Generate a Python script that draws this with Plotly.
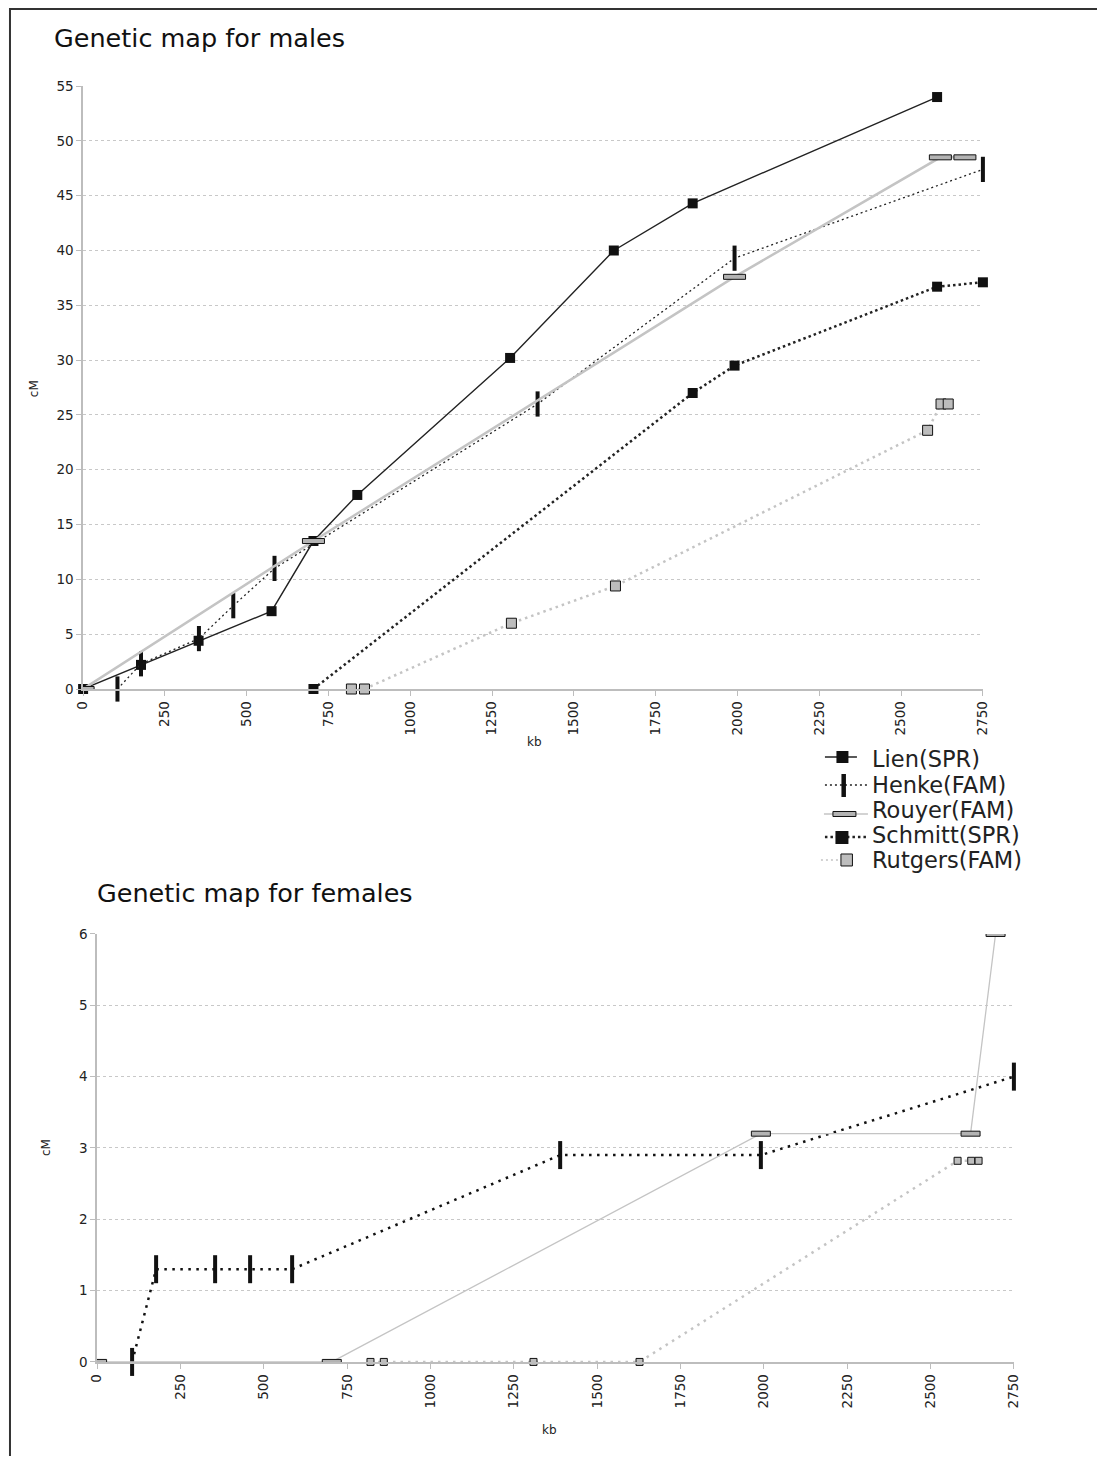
import plotly.graph_objects as go

W, H = 1104, 1464
# The photographed picture shows the page with an 8px pad and a slight
# down-scale; reference pixel positions are converted accordingly.
PAD = 8
SX = W / (W + 2 * PAD)
SY = H / (H + 2 * PAD)

# ---------------- data ----------------
lien_x = [0, 177, 353, 576, 704, 838, 1305, 1622, 1863, 2610]
lien_y = [0, 2.2, 4.4, 7.1, 13.5, 17.7, 30.2, 40.0, 44.3, 54.0]

henke_x = [105, 177, 354, 459, 585, 1389, 1991, 2750]
henke_m_y = [0, 2.3, 4.6, 7.6, 11.0, 26.0, 39.3, 47.4]
henke_f_y = [0, 1.3, 1.3, 1.3, 1.3, 2.9, 2.9, 4.0]

rouyer_x = [0, 704, 1991, 2620, 2695]
rouyer_m_y = [0, 13.5, 37.6, 48.5, 48.5]
rouyer_f_y = [0, 0, 3.2, 3.2, 6.0]

schmitt_x = [704, 1863, 1991, 2610, 2750]
schmitt_y = [0, 27.0, 29.5, 36.7, 37.1]

rutgers_x = [820, 860, 1309, 1627, 2581, 2622, 2644]
rutgers_m_y = [0, 0, 6.0, 9.4, 23.6, 26.0, 26.0]
rutgers_f_y = [0, 0, 0, 0, 2.82, 2.82, 2.82]

series_names = ["Lien(SPR)", "Henke(FAM)", "Rouyer(FAM)", "Schmitt(SPR)", "Rutgers(FAM)"]

x_ticks = [0, 250, 500, 750, 1000, 1250, 1500, 1750, 2000, 2250, 2500, 2750]
male_y_ticks = [0, 5, 10, 15, 20, 25, 30, 35, 40, 45, 50, 55]
female_y_ticks = [0, 1, 2, 3, 4, 5, 6]

FONT = "DejaVu Sans"
BLACK = "#111111"
LGRAY = "#c4c4c4"
TXT = "#222222"


def px_x(p):
    return (p / SX - PAD) / W


def px_y(p):
    return 1 - (p / SY - PAD) / H


fig = go.Figure()

# ---------------- males ----------------
fig.add_trace(go.Scatter(
    x=lien_x, y=lien_y, name=series_names[0], mode="lines+markers",
    line=dict(color="#222222", width=1.4),
    marker=dict(symbol="square", size=10, color=BLACK),
    xaxis="x", yaxis="y", cliponaxis=False))
fig.add_trace(go.Scatter(
    x=henke_x, y=henke_m_y, name=series_names[1], mode="lines+markers",
    line=dict(color="#222222", width=1.3, dash="2px,3px"),
    marker=dict(symbol="line-ns", size=18, color=BLACK,
                line=dict(color=BLACK, width=4)),
    xaxis="x", yaxis="y", cliponaxis=False))
fig.add_trace(go.Scatter(
    x=rouyer_x, y=rouyer_m_y, name=series_names[2], mode="lines",
    line=dict(color=LGRAY, width=2.5),
    xaxis="x", yaxis="y", cliponaxis=False))
fig.add_trace(go.Scatter(
    x=schmitt_x, y=schmitt_y, name=series_names[3], mode="lines+markers",
    line=dict(color="#222222", width=2.5, dash="2.5px,3px"),
    marker=dict(symbol="square", size=10, color=BLACK),
    xaxis="x", yaxis="y", cliponaxis=False))
fig.add_trace(go.Scatter(
    x=rutgers_x, y=rutgers_m_y, name=series_names[4], mode="lines+markers",
    line=dict(color=LGRAY, width=2.5, dash="2.5px,4px"),
    marker=dict(symbol="square", size=10, color="#bdbdbd",
                line=dict(color=BLACK, width=1)),
    xaxis="x", yaxis="y", cliponaxis=False))

# ---------------- females ----------------
fig.add_trace(go.Scatter(
    x=henke_x, y=henke_f_y, name=series_names[1], mode="lines+markers",
    line=dict(color="#111111", width=2.5, dash="2.5px,5.5px"),
    marker=dict(symbol="line-ns", size=20, color=BLACK,
                line=dict(color=BLACK, width=4)),
    xaxis="x2", yaxis="y2", cliponaxis=False))
fig.add_trace(go.Scatter(
    x=rouyer_x, y=rouyer_f_y, name=series_names[2], mode="lines",
    line=dict(color=LGRAY, width=1.3),
    xaxis="x2", yaxis="y2", cliponaxis=False))
fig.add_trace(go.Scatter(
    x=rutgers_x, y=rutgers_f_y, name=series_names[4], mode="lines+markers",
    line=dict(color=LGRAY, width=2.5, dash="2.5px,5px"),
    marker=dict(symbol="square", size=7, color="#bdbdbd",
                line=dict(color=BLACK, width=1)),
    xaxis="x2", yaxis="y2", cliponaxis=False))

shapes = []
# Rouyer horizontal-rectangle markers
for xv, yv in zip(rouyer_x, rouyer_m_y):
    shapes.append(dict(type="rect", xref="x", yref="y", xsizemode="pixel",
                       ysizemode="pixel", xanchor=xv, yanchor=yv,
                       x0=-11, x1=11, y0=-2.5, y1=2.5,
                       fillcolor="#b3b3b3", line=dict(color=BLACK, width=1),
                       layer="above"))
for xv, yv in zip(rouyer_x, rouyer_f_y):
    shapes.append(dict(type="rect", xref="x2", yref="y2", xsizemode="pixel",
                       ysizemode="pixel", xanchor=xv, yanchor=yv,
                       x0=-9.5, x1=9.5, y0=-2.5, y1=2.5,
                       fillcolor="#b3b3b3", line=dict(color=BLACK, width=1),
                       layer="above"))

# page frame (top and left edges)
shapes.append(dict(type="line", xref="paper", yref="paper",
                   x0=0, x1=1, y0=1 - 1 / H, y1=1 - 1 / H,
                   line=dict(color="#333333", width=2)))
shapes.append(dict(type="line", xref="paper", yref="paper",
                   x0=1 / W, x1=1 / W, y0=1, y1=0,
                   line=dict(color="#333333", width=2)))


# ---------------- hand-drawn legend ----------------
def pline(x0, x1, y, color, width, dash="solid"):
    return dict(type="line", xref="paper", yref="paper",
                x0=px_x(x0), x1=px_x(x1), y0=px_y(y), y1=px_y(y),
                line=dict(color=color, width=width, dash=dash))


def prect(x0, x1, y0, y1, fill, lc, lw):
    return dict(type="rect", xref="paper", yref="paper",
                x0=px_x(x0), x1=px_x(x1), y0=px_y(y0), y1=px_y(y1),
                fillcolor=fill, line=dict(color=lc, width=lw))


leg_y = [757, 783, 808, 833, 858]
shapes += [
    pline(824, 856, leg_y[0], "#222222", 1.4),
    prect(835.5, 847.5, leg_y[0] - 6, leg_y[0] + 6, BLACK, BLACK, 0),
    pline(824, 866, leg_y[1] + 2, "#222222", 1.3, "2px,3px"),
    prect(840.5, 845, leg_y[1] - 9, leg_y[1] + 14, BLACK, BLACK, 0),
    pline(823, 867, leg_y[2] + 6, LGRAY, 1.5),
    prect(832, 855, leg_y[2] + 3.5, leg_y[2] + 8.5, "#b3b3b3", BLACK, 1),
    pline(824, 866, leg_y[3] + 4, "#222222", 2.5, "2.5px,3px"),
    prect(834.5, 847.5, leg_y[3] - 2, leg_y[3] + 11, BLACK, BLACK, 0),
    pline(820, 852, leg_y[4] + 2, LGRAY, 1.5, "2px,3px"),
    prect(840, 851.5, leg_y[4] - 4, leg_y[4] + 8, "#bdbdbd", BLACK, 1),
]

axis_common = dict(
    showline=True, linecolor="#bdbdbd", linewidth=1.5,
    ticks="outside", ticklen=5, tickcolor="#bdbdbd", tickwidth=1,
    tickfont=dict(family=FONT, size=13.5, color=TXT),
    zeroline=False,
)


def label(text, x, y, size, angle=0, xanchor="center", color=TXT):
    return dict(text=text, x=px_x(x), y=px_y(y), xref="paper", yref="paper",
                xanchor=xanchor, yanchor="middle", textangle=angle,
                showarrow=False, font=dict(family=FONT, size=size, color=color))


annotations = [
    label("Genetic map for males", 51, 38, 25.5, xanchor="left", color="#111111"),
    label("Genetic map for females", 94, 893, 25.5, xanchor="left", color="#111111"),
    label("cM", 33, 389, 12, angle=-90),
    label("kb", 533, 742, 12),
    label("cM", 45, 1148, 12, angle=-90),
    label("kb", 548, 1430, 12),
]
for name, yy in zip(series_names, leg_y):
    annotations.append(label(name, 869, yy + 2, 22.5, xanchor="left"))

fig.update_layout(
    width=W, height=H,
    margin=dict(l=0, r=0, t=0, b=0),
    paper_bgcolor="white", plot_bgcolor="white",
    font=dict(family=FONT, color=TXT),
    showlegend=False,
    xaxis=dict(domain=[px_x(82), px_x(982)], range=[0, 2750],
               tickvals=x_ticks, tickangle=-90, showgrid=False,
               anchor="y", **axis_common),
    yaxis=dict(domain=[px_y(689), px_y(86)], range=[0, 55],
               tickvals=male_y_ticks, showgrid=True, gridcolor="#c8c8c8",
               griddash="dot", gridwidth=1, anchor="x", **axis_common),
    xaxis2=dict(domain=[px_x(96), px_x(1013)], range=[0, 2750],
                tickvals=x_ticks, tickangle=-90, showgrid=False,
                anchor="y2", **axis_common),
    yaxis2=dict(domain=[px_y(1362), px_y(934)], range=[0, 6],
                tickvals=female_y_ticks, showgrid=True, gridcolor="#c8c8c8",
                griddash="dot", gridwidth=1, anchor="x2", **axis_common),
    shapes=shapes,
    annotations=annotations,
)

fig.write_html(
    "out.html",
    config={"displayModeBar": False},
    post_script="document.body.style.margin='0px';"
                "document.body.style.overflow='hidden';",
)
